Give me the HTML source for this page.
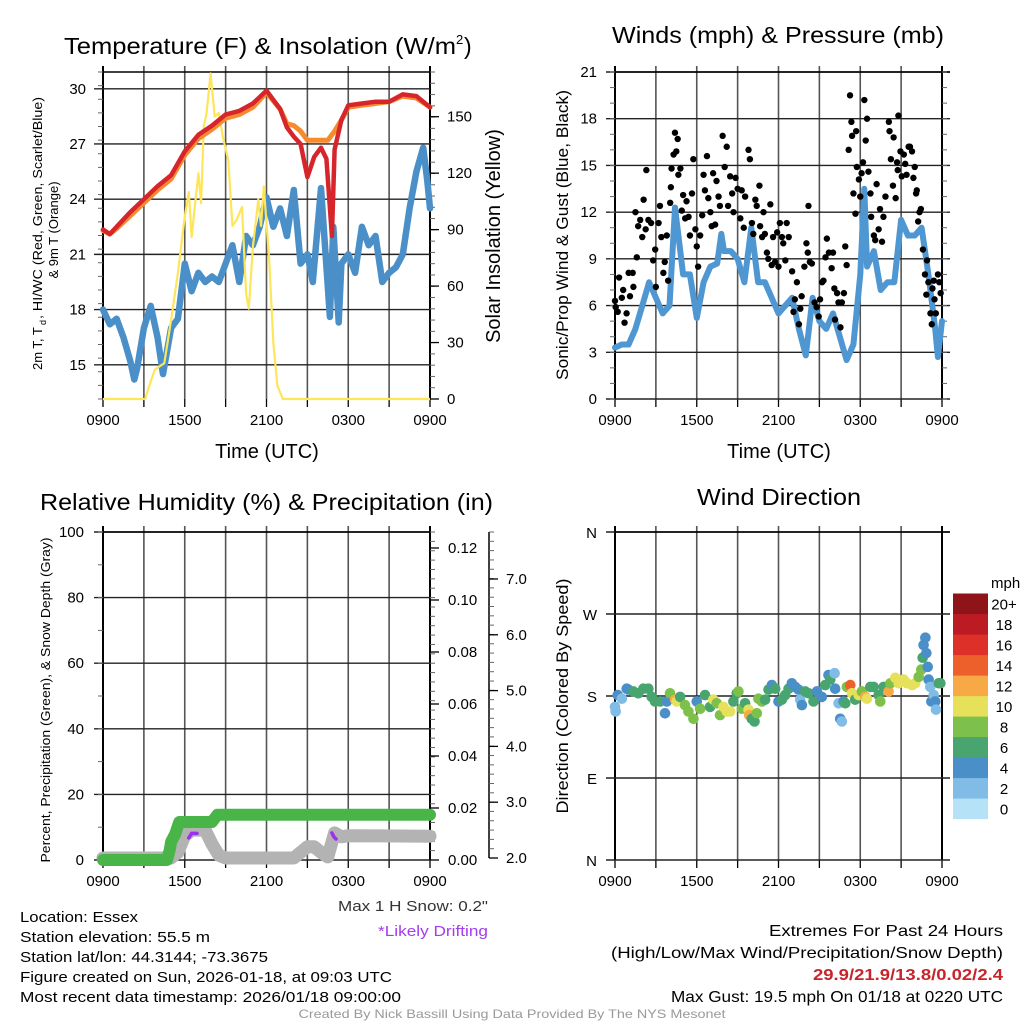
<!DOCTYPE html>
<html><head><meta charset="utf-8"><style>
html,body{margin:0;padding:0;background:#fff;}
svg{display:block;font-family:"Liberation Sans",sans-serif;}
</style></head><body>
<svg id="fig" width="1024" height="1024" viewBox="0 0 1024 1024" xmlns="http://www.w3.org/2000/svg"></svg>
<script>
// ---------- DATA ----------
const timeTicks = ["0900","1500","2100","0300","0900"];
const tempYTicks = [15,18,21,24,27,30];
const solarTicks = [0,30,60,90,120,150];
const windTicks = [0,3,6,9,12,15,18,21];
const rhTicks = [0,20,40,60,80,100];
const precipTicks = [0.00,0.02,0.04,0.06,0.08,0.10,0.12];
const snowTicks = [2.0,3.0,4.0,5.0,6.0,7.0];
const dirTicks = [["N",0],["E",90],["S",180],["W",270],["N",360]];

const tempT = [0,0.5,1,2,3,4,5,6,7,8,9,10,11,12,13,13.5,14,14.5,15,15.5,16,16.4,16.8,17,17.5,18,19,20,21,22,23,24];
const tempV = [22.35,22.1,22.5,23.3,24.0,24.7,25.3,26.6,27.5,28.0,28.6,28.8,29.2,29.9,28.9,27.9,27.4,27.0,25.2,26.3,26.8,26.2,22.0,26.7,28.3,29.1,29.2,29.3,29.3,29.7,29.6,29.0];
const t9T = [0,0.5,1,2,3,4,5,6,7,8,9,10,11,12,13,13.5,14,14.5,15,15.5,16,16.5,17,17.5,18,19,20,21,22,23,24];
const t9V = [22.3,22.1,22.4,23.1,23.8,24.5,25.1,26.4,27.3,27.8,28.4,28.6,29.0,29.8,28.9,28.1,28.0,27.7,27.2,27.2,27.2,27.2,27.7,28.3,29.0,29.1,29.2,29.3,29.6,29.5,29.0];
const dewT = [0,0.5,1,1.5,2,2.3,2.5,3,3.5,4,4.4,5,5.5,6,6.5,7,7.5,8,8.5,9,9.5,10,10.5,11,11.5,12,12.5,13,13.5,14,14.5,15,15.4,16,16.65,16.9,17.3,17.5,18,18.5,19,19.5,20,20.5,21,21.5,22,22.5,23,23.5,23.8,24];
const dewV = [18.0,17.2,17.5,16.5,15.2,14.2,14.8,17.0,18.2,16.5,14.5,17.0,17.5,20.5,19.0,20.0,19.5,19.8,19.5,20.5,21.5,19.5,22.0,21.5,22.5,24.1,22.5,23.5,22.0,24.5,20.5,21.0,19.5,24.6,17.6,22.5,17.3,20.5,21.0,20.0,22.5,21.5,22.0,19.5,20.0,20.3,21.0,23.5,25.5,26.8,25.0,23.5];
const solT = [0,3.1,3.3,3.8,4.5,5,5.5,5.8,6,6.3,6.5,6.8,7,7.2,7.4,7.6,7.9,8.2,8.5,8.8,9.2,9.5,9.8,10.2,10.5,10.7,11,11.4,11.6,11.8,12.2,12.5,12.8,13.2,24];
const solV = [0,0,5,15.6,19,42,67,85,97,110,86,106,120,104,145,152,173,150,152,139,127,92,95,102,56,48,81,106,92,113,74,30,7,0,0];

const windT = [0,0.5,1,1.5,2,2.5,3,3.5,4,4.4,5,5.5,6,6.5,7,7.5,7.8,8,8.5,9,9.5,10,10.5,11,11.5,12,12.5,13,13.5,14,14.5,15,15.5,16,16.5,17,17.5,18,18.3,18.5,19,19.5,20,20.5,21,21.5,22,22.5,23,23.5,23.7,24];
const windV = [3.3,3.5,3.5,4.5,6.0,7.5,6.5,5.5,6.0,12.3,8.0,8.0,5.2,7.5,8.5,8.7,10.6,9.5,9.5,9.0,7.5,11.0,7.5,7.5,6.5,5.5,6.0,6.5,4.5,2.8,6.5,5.0,4.5,5.5,4.0,2.5,3.5,8.0,13.5,8.5,9.5,7.0,7.5,7.5,11.5,10.5,10.5,11.0,8.0,4.5,2.7,5.0];
const gustT = [0,0.05,0.2,0.3,0.5,0.6,0.7,0.85,1.0,1.1,1.3,1.35,1.5,1.6,1.7,1.85,2.0,2.1,2.25,2.3,2.45,2.65,2.8,2.95,3.0,3.2,3.3,3.4,3.55,3.65,3.8,3.9,4.05,4.1,4.15,4.3,4.4,4.5,4.6,4.65,4.8,4.9,5.0,5.15,5.25,5.4,5.5,5.65,5.75,5.9,6.0,6.1,6.25,6.4,6.5,6.6,6.75,6.85,7.0,7.1,7.2,7.35,7.45,7.6,7.7,7.9,8.05,8.2,8.3,8.45,8.6,8.7,8.85,9.0,9.2,9.3,9.45,9.55,9.8,9.9,10.05,10.15,10.3,10.4,10.6,10.65,10.8,10.9,11.0,11.15,11.25,11.4,11.5,11.6,11.75,11.9,12.0,12.1,12.25,12.35,12.5,12.6,12.75,13.0,13.1,13.2,13.35,13.5,13.6,13.7,13.9,14.05,14.15,14.2,14.3,14.45,14.65,14.8,14.95,15.05,15.2,15.3,15.45,15.55,15.7,15.9,16.0,16.1,16.15,16.3,16.4,16.55,16.65,16.8,16.9,17.0,17.15,17.25,17.35,17.4,17.5,17.65,17.7,17.75,17.9,18.0,18.1,18.2,18.3,18.4,18.5,18.6,18.75,18.8,19.0,19.1,19.2,19.35,19.45,19.6,19.7,19.85,20.1,20.15,20.25,20.4,20.45,20.6,20.7,20.75,20.8,20.95,21.05,21.2,21.3,21.4,21.55,21.65,21.8,21.9,22.0,22.1,22.15,22.25,22.35,22.45,22.6,22.75,22.85,22.9,23.0,23.15,23.25,23.3,23.4,23.45,23.55,23.7,23.8,23.9];
const gustV = [6.3,5.9,5.6,7.8,6.5,7.0,4.9,5.5,8.1,6.6,8.1,7.2,12.0,9.1,11.1,11.5,10.4,12.8,10.9,14.7,11.5,11.3,8.9,9.6,7.2,11.3,12.4,10.4,8.1,8.8,10.5,7.6,12.6,13.6,14.8,15.7,17.1,15.9,16.7,14.4,14.8,12.1,13.1,11.6,12.7,11.7,10.5,13.2,15.4,10.9,9.8,8.5,10.5,11.8,14.4,13.4,15.6,12.9,12.0,11.1,14.5,11.2,14.0,13.0,12.4,16.9,14.9,16.2,12.4,14.3,13.2,12.0,14.2,13.5,11.6,13.4,11.0,13.0,16.0,15.4,11.3,10.6,12.8,12.4,13.7,11.1,10.4,12.0,10.6,9.4,9.0,12.5,8.6,10.4,8.8,10.7,8.5,11.3,10.4,10.0,8.9,11.3,10.4,8.2,5.6,6.4,7.5,4.8,5.8,6.6,8.5,10.0,9.4,12.4,8.8,8.7,6.2,5.9,5.3,6.4,7.5,7.6,9.1,10.3,9.4,8.4,9.4,7.1,5.1,6.8,6.2,4.6,6.2,6.8,9.8,8.6,16.0,19.5,17.8,16.9,13.2,11.9,17.2,14.9,14.1,13.0,14.5,15.2,19.2,16.6,18.0,14.6,13.2,11.7,10.5,10.2,13.8,10.9,12.2,10.1,11.7,13.0,17.8,17.2,15.4,13.7,16.8,12.9,15.2,14.7,18.2,15.9,14.3,15.7,15.1,14.4,16.2,16.2,15.9,14.2,14.9,13.2,13.4,11.4,12.0,12.2,9.6,8.0,6.7,8.9,7.5,5.5,4.8,7.1,7.6,6.4,5.5,8.0,7.5,6.8];

const precipT = [0,4.7,4.8,4.9,5.0,5.3,5.6,8.0,8.2,8.4,24];
const precipV = [0,0,0.002,0.004,0.007,0.010,0.0146,0.0146,0.016,0.0174,0.0174];
const snowT = [0,5,5.5,6,6.5,7.5,8,8.5,9,14,14.5,15,15.5,16,16.5,17,17.5,18,24];
const snowV = [2.0,2.0,2.1,2.4,2.5,2.5,2.25,2.05,2.0,2.0,2.1,2.2,2.2,2.1,2.02,2.45,2.38,2.4,2.39];
const driftT1 = [6.3,6.5,6.9];
const driftV1 = [2.36,2.44,2.44];
const driftT2 = [16.8,16.95,17.1];
const driftV2 = [2.45,2.38,2.34];

const dirT = [0,0.05,0.2,0.5,0.86,0.98,1.35,1.71,2.08,2.45,2.69,2.94,3.31,3.67,3.8,4.04,4.41,4.53,4.78,5.14,5.39,5.76,6.0,6.25,6.61,6.98,7.22,7.47,7.71,7.96,8.2,8.45,8.69,8.94,9.06,9.31,9.55,9.8,9.85,10.04,10.24,10.41,10.53,10.78,11.02,11.27,11.51,11.76,12.0,12.25,12.49,12.74,12.98,13.23,13.47,13.59,13.72,13.96,14.2,14.57,14.82,15.18,15.43,15.67,15.8,16.12,16.16,16.41,16.53,16.65,16.78,16.9,17.02,17.27,17.39,17.63,17.88,18.12,18.37,18.49,18.74,18.98,19.35,19.47,19.72,20.08,20.21,20.57,20.82,21.19,21.43,21.8,22.04,22.29,22.48,22.58,22.65,22.78,22.85,22.95,23.02,23.14,23.22,23.39,23.51,23.56,23.76,23.88];
const dirV = [168,163,181,177,188,187,185,183,188,188,179,174,174,161,174,183,176,174,179,170,163,155,174,166,181,168,176,172,159,168,163,163,174,183,185,166,172,165,159,155,152,161,177,174,176,187,192,188,174,176,181,188,194,190,187,176,170,185,183,174,185,179,192,203,198,205,188,172,155,152,174,172,190,192,183,176,181,185,179,177,190,190,181,174,190,185,194,200,194,198,194,192,194,201,209,222,236,244,227,212,198,190,174,181,174,165,194,194];
const dirS = [3,3,4,2,4,4,6,6,6,7,6,6,7,4,5,8,12,10,7,8,8,8,5,8,7,7,10,8,8,10,10,10,7,6,8,8,6,10,12,6,6,8,8,8,6,6,4,6,5,6,6,6,4,4,4,2,4,6,6,6,4,4,6,4,6,3,4,2,4,2,5,6,8,14,10,6,10,8,12,10,7,6,7,8,7,12,8,10,10,10,10,10,10,8,8,6,4,4,4,4,4,2,4,2,4,2,6,6];
const legendLabels = ["0","2","4","6","8","10","12","14","16","18","20+"];
const legendColors = ["#b5e2f6","#80bce6","#4a8fc7","#49a56f","#7dc04b","#e6e05a","#f6a944","#ee602b","#dc3029","#bd1b24","#8f1419"];

// ---------- DRAW ----------
const NS="http://www.w3.org/2000/svg";
const svg=document.getElementById('fig');
function mk(tag,attrs,parent){const e=document.createElementNS(NS,tag);for(const k in attrs)e.setAttribute(k,attrs[k]);(parent||svg).appendChild(e);return e;}
function txt(s,attrs,parent){const e=mk('text',attrs,parent);e.textContent=s;return e;}
const X0=103,X1=430,X0b=615,X1b=942;
const xL=h=>X0+h*(X1-X0)/24;
const xR=h=>X0b+h*(X1b-X0b)/24;
const yT=t=>399-(t-13.14)*18.4;
const yS=s=>399-s*1.882;
const yW=v=>399-v*327/21;
const yP=p=>860-p*3.28;
const yPr=v=>860-v*2600;
const ySn=v=>858-(v-2)*55.8;
const yD=d=>860-d*328/360;

function pathOf(ts,vs,xf,yf){let d='';for(let i=0;i<ts.length;i++){d+=(i?'L':'M')+xf(ts[i]).toFixed(1)+' '+yf(vs[i]).toFixed(1);}return d;}

function frame(g,x0,x1,y0,y1,xf,hlines){
  for(let h=0;h<=24;h+=3){const x=xf(h);const l=mk('line',{x1:x,x2:x,y1:y0-6,y2:y1,stroke:(h==0||h==24)?'#000':'#555','stroke-width':(h==0||h==24)?2:1.6},g);
    
    
    const t=mk('line',{x1:x,x2:x,y1:y1,y2:y1+8,stroke:'#000','stroke-width':1.3},g);
    
    }
  hlines.forEach(y=>{const l=mk('line',{x1:x0-9,x2:x1,y1:y,y2:y,stroke:'#222','stroke-width':1.4},g);
    
    });
  const r=mk('line',{x1:x0,x2:x1,y1:y0,y2:y0,stroke:'#000','stroke-width':1.5},g);
  
  
  timeTicks.forEach((s,i)=>{const t=txt(s,{x:xf(i*6),y:y1+26,'font-size':15,'text-anchor':'middle'},g);
    
    });
}
function minorTicks(g,x,y0,y1,n,dir){for(let i=0;i<=n;i++){const y=y0+(y1-y0)*i/n;const l=mk('line',{x1:x,x2:x+dir*5,y1:y,y2:y,stroke:'#666','stroke-width':1},g);
  
  }}

// ===== Panel 1 =====
const g1=mk('g',{});


frame(g1,X0,X1,72,399,xL,tempYTicks.map(yT));
minorTicks(g1,X0,72,399,24,-1);
minorTicks(g1,X1,72,399,29,1);
tempYTicks.forEach(v=>{const t=txt(String(v),{x:86,y:yT(v)+5,'font-size':15,'text-anchor':'end'},g1);
  
  });
solarTicks.forEach(v=>{const y=yS(v);const l=mk('line',{x1:X1,x2:X1+9,y1:y,y2:y,stroke:'#000','stroke-width':1.3},g1);
  
  
  const t=txt(String(v),{x:447,y:y+5,'font-size':15},g1);
  
  });
let p=mk('path',{d:pathOf(dewT,dewV,xL,yT),fill:'none',stroke:'#4a8fc7','stroke-width':6.5,'stroke-linejoin':'round','stroke-linecap':'round'},g1);


p=mk('path',{d:pathOf(solT,solV,xL,yS),fill:'none',stroke:'#fde65a','stroke-width':2.2,'stroke-linejoin':'round'},g1);


p=mk('path',{d:pathOf(t9T,t9V,xL,yT),fill:'none',stroke:'#f58b2e','stroke-width':5,'stroke-linejoin':'round','stroke-linecap':'round'},g1);


p=mk('path',{d:pathOf(tempT,tempV,xL,yT),fill:'none',stroke:'#d7262b','stroke-width':4.5,'stroke-linejoin':'round','stroke-linecap':'round'},g1);


let t=txt('Temperature (F) & Insolation (W/m',{x:64,y:54,'font-size':23,textLength:392,lengthAdjust:'spacingAndGlyphs'},g1);


t=txt('2',{x:456,y:44,'font-size':13},g1);


t=txt(')',{x:464,y:54,'font-size':23},g1);


t=txt('2m T, T',{transform:'translate(42,370) rotate(-90)','font-size':13},g1);


t=txt('d',{transform:'translate(46,325) rotate(-90)','font-size':9},g1);


t=txt(', HI/WC (Red, Green, Scarlet/Blue)',{transform:'translate(42,319) rotate(-90)','font-size':13,textLength:222,lengthAdjust:'spacingAndGlyphs'},g1);


t=txt('& 9m T (Orange)',{transform:'translate(58,230) rotate(-90)','font-size':13,'text-anchor':'middle'},g1);


t=txt('Solar Insolation (Yellow)',{transform:'translate(500,236) rotate(-90)','font-size':20,'text-anchor':'middle'},g1);


t=txt('Time (UTC)',{x:267,y:458,'font-size':20,'text-anchor':'middle'},g1);



// ===== Panel 2 =====
const g2=mk('g',{});


frame(g2,X0b,X1b+8,72,399,xR,windTicks.map(yW));
minorTicks(g2,X0b,72,399,21,-1);
minorTicks(g2,X1b,72,399,21,1);
windTicks.forEach(v=>{const t=txt(String(v),{x:597,y:yW(v)+5,'font-size':15,'text-anchor':'end'},g2);
  
  });
p=mk('path',{d:pathOf(windT,windV,xR,yW),fill:'none',stroke:'#4f97d2','stroke-width':6,'stroke-linejoin':'round','stroke-linecap':'round'},g2);


gustT.forEach((h,i)=>{const c=mk('circle',{cx:xR(h),cy:yW(gustV[i]),r:3.2,fill:'#000'},g2);
  
  });
t=txt('Winds (mph) & Pressure (mb)',{x:612,y:43,'font-size':23,textLength:332,lengthAdjust:'spacingAndGlyphs'},g2);


t=txt('Sonic/Prop Wind & Gust (Blue, Black)',{transform:'translate(568,235) rotate(-90)','font-size':17,'text-anchor':'middle',textLength:290,lengthAdjust:'spacingAndGlyphs'},g2);


t=txt('Time (UTC)',{x:779,y:458,'font-size':20,'text-anchor':'middle'},g2);



// ===== Panel 3 =====
const g3=mk('g',{});


frame(g3,X0,X1,532,860,xL,rhTicks.map(yP));
minorTicks(g3,X0,532,860,10,-1);
minorTicks(g3,X1,532,860,35,1);
rhTicks.forEach(v=>{const t=txt(String(v),{x:84,y:yP(v)+5,'font-size':15,'text-anchor':'end'},g3);
  
  });
precipTicks.forEach(v=>{const y=yPr(v);const l=mk('line',{x1:X1,x2:X1+9,y1:y,y2:y,stroke:'#000','stroke-width':1.3},g3);
  
  
  const t=txt(v.toFixed(2),{x:448,y:y+5,'font-size':15},g3);
  
  });
let ax=mk('line',{x1:489,x2:489,y1:532,y2:858,stroke:'#000','stroke-width':1.5},g3);


minorTicks(g3,489,532,858,35,1);
snowTicks.forEach(v=>{const y=ySn(v);const l=mk('line',{x1:489,x2:498,y1:y,y2:y,stroke:'#000','stroke-width':1.3},g3);
  
  
  const t=txt(v.toFixed(1),{x:506,y:y+5,'font-size':15},g3);
  
  });
p=mk('path',{d:pathOf(snowT,snowV,xL,ySn),fill:'none',stroke:'#b3b3b3','stroke-width':13,'stroke-linejoin':'round','stroke-linecap':'round'},g3);


p=mk('path',{d:pathOf(precipT,precipV,xL,yPr),fill:'none',stroke:'#49b549','stroke-width':12,'stroke-linejoin':'round','stroke-linecap':'round'},g3);


[[driftT1,driftV1],[driftT2,driftV2]].forEach(a=>{const q=mk('path',{d:pathOf(a[0],a[1],xL,ySn),fill:'none',stroke:'#9b30f0','stroke-width':3.5,'stroke-linecap':'round'},g3);
  
  });
t=txt('Relative Humidity (%) & Precipitation (in)',{x:40,y:510,'font-size':23,textLength:453,lengthAdjust:'spacingAndGlyphs'},g3);


t=txt('Percent, Precipitation (Green), & Snow Depth (Gray)',{transform:'translate(50,700) rotate(-90)','font-size':13,'text-anchor':'middle',textLength:325,lengthAdjust:'spacingAndGlyphs'},g3);



// ===== Panel 4 =====
const g4=mk('g',{});


frame(g4,X0b,X1b+8,532,860,xR,dirTicks.map(d=>yD(d[1])));
dirTicks.forEach(d=>{const t=txt(d[0],{x:597,y:yD(d[1])+6,'font-size':15,'text-anchor':'end'},g4);
  
  });
function colorFor(s){return legendColors[Math.min(10,Math.floor(s/2))];}
dirT.forEach((h,i)=>{const c=mk('circle',{cx:xR(h),cy:yD(dirV[i]),r:5.3,fill:colorFor(dirS[i])},g4);
  
  });
t=txt('Wind Direction',{x:697,y:505,'font-size':23,textLength:164,lengthAdjust:'spacingAndGlyphs'},g4);


t=txt('Direction (Colored By Speed)',{transform:'translate(568,696) rotate(-90)','font-size':17,'text-anchor':'middle',textLength:235,lengthAdjust:'spacingAndGlyphs'},g4);


const lg=mk('g',{},g4);


t=txt('mph',{x:991,y:588,'font-size':15},lg);


legendLabels.forEach((s,i)=>{const y=819-(i+1)*20.5;
  const r=mk('rect',{x:953,y:y,width:35,height:20.6,fill:legendColors[i]},lg);
  
  
  const tt=txt(s,{x:1004,y:y+16,'font-size':15,'text-anchor':'middle'},lg);
  
  });

// ===== Footer text =====
const info=["Location: Essex","Station elevation: 55.5 m","Station lat/lon: 44.3144; -73.3675","Figure created on Sun, 2026-01-18, at 09:03 UTC","Most recent data timestamp: 2026/01/18 09:00:00"];
const infoW=[118,190,248,372,381];
info.forEach((s,i)=>{const tt=txt(s,{x:20,y:922+i*20,'font-size':15,textLength:infoW[i],lengthAdjust:'spacingAndGlyphs'});
  
  });
t=txt('Max 1 H Snow: 0.2"',{x:488,y:911,'font-size':15,'text-anchor':'end',fill:'#333',textLength:150,lengthAdjust:'spacingAndGlyphs'});


t=txt('*Likely Drifting',{x:488,y:936,'font-size':15,'text-anchor':'end',fill:'#a43cf0',textLength:110,lengthAdjust:'spacingAndGlyphs'});


const ext=[["Extremes For Past 24 Hours",'#000',234,'normal'],["(High/Low/Max Wind/Precipitation/Snow Depth)",'#000',392,'normal'],["29.9/21.9/13.8/0.02/2.4",'#c8242b',190,'bold'],["Max Gust: 19.5 mph On 01/18 at 0220 UTC",'#000',332,'normal']];
ext.forEach((e,i)=>{const tt=txt(e[0],{x:1003,y:936+i*22,'font-size':16,'text-anchor':'end',fill:e[1],'font-weight':e[3],textLength:e[2],lengthAdjust:'spacingAndGlyphs'});
  
  });
t=txt('Created By Nick Bassill Using Data Provided By The NYS Mesonet',{x:512,y:1018,'font-size':12,'text-anchor':'middle',fill:'#999',textLength:427,lengthAdjust:'spacingAndGlyphs'});


</script>
</body></html>
